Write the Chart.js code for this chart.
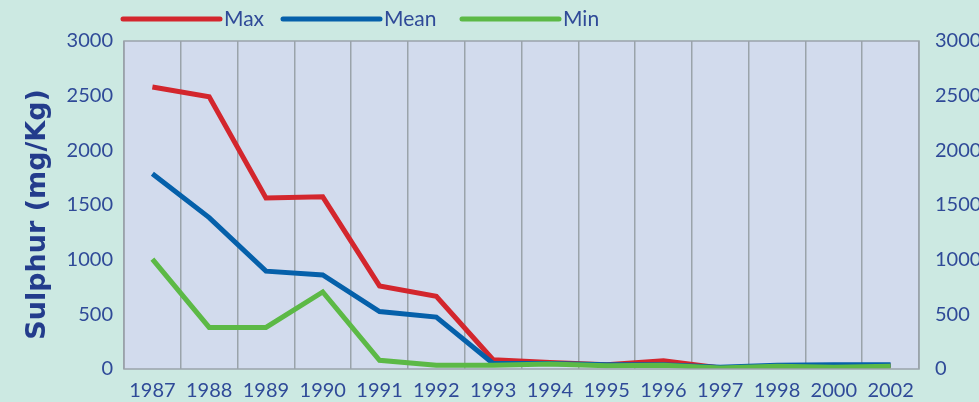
<!DOCTYPE html>
<html>
<head>
<meta charset="utf-8">
<script src="https://cdn.jsdelivr.net/npm/chart.js@4/dist/chart.umd.min.js"></script>
<style>
  html, body { margin: 0; padding: 0; background: #cce9e2; }
  #wrap { width: 979px; height: 402px; }
</style>
</head>
<body>
<div id="wrap"><canvas id="myChart"></canvas></div>
<script>
// data
const years = ['1987', '1988', '1989', '1990', '1991', '1992', '1993', '1994', '1995', '1996', '1997', '1998', '2000', '2002'];
const maxVals = [2580, 2490, 1565, 1575, 760, 665, 85, 60, 40, 75, 10, 15, 20, 30];
const meanVals = [1785, 1385, 895, 860, 525, 475, 50, 50, 40, 40, 15, 35, 40, 40];
const minVals = [1005, 380, 380, 705, 80, 35, 35, 45, 30, 35, 10, 25, 15, 25];
const yTicks = [0, 500, 1000, 1500, 2000, 2500, 3000];

const textColor = '#2f4a98';
const fontName = 'Lato';

// fills page bg + plot area
const bgPlugin = {
  id: 'bgPlugin',
  beforeDraw(chart) {
    const {ctx, chartArea: a} = chart;
    ctx.save();
    ctx.fillStyle = '#cce9e2';
    ctx.fillRect(0, 0, chart.width, chart.height);
    ctx.fillStyle = '#d2dbed';
    ctx.fillRect(a.left, a.top, a.right - a.left, a.bottom - a.top);
    ctx.restore();
  },
  afterDatasetsDraw(chart) {
    const {ctx, chartArea: a} = chart;
    ctx.save();
    ctx.strokeStyle = '#9aa3aa';
    ctx.lineWidth = 1.5;
    ctx.strokeRect(a.left, a.top, a.right - a.left, a.bottom - a.top);
    ctx.restore();
  }
};

// legend with long round-capped lines
const legendX = [123, 283, 462];
const lineLegend = {
  id: 'lineLegend',
  afterDraw(chart) {
    const ctx = chart.ctx;
    const y = 19;
    ctx.save();
    ctx.font = '21px ' + fontName;
    ctx.textBaseline = 'middle';
    chart.data.datasets.forEach((ds, i) => {
      const x = legendX[i];
      ctx.strokeStyle = ds.borderColor;
      ctx.lineWidth = 5;
      ctx.lineCap = 'round';
      ctx.beginPath();
      ctx.moveTo(x, y);
      ctx.lineTo(x + 97, y);
      ctx.stroke();
      ctx.fillStyle = textColor;
      ctx.fillText(ds.label, x + 101, y);
    });
    ctx.restore();
  }
};

const plain = v => String(v);

const ctx = document.getElementById('myChart');
new Chart(ctx, {
  type: 'line',
  data: {
    labels: years,
    datasets: [
      { label: 'Max', data: maxVals, borderColor: '#d3262d', backgroundColor: '#d3262d', order: 3 },
      { label: 'Mean', data: meanVals, borderColor: '#0560aa', backgroundColor: '#0560aa', order: 2 },
      { label: 'Min', data: minVals, borderColor: '#5cb946', backgroundColor: '#5cb946', order: 1 }
    ]
  },
  options: {
    responsive: true,
    maintainAspectRatio: false,
    animation: false,
    layout: { padding: { top: 41, left: 0, right: 0, bottom: 0 } },
    elements: {
      line: { borderWidth: 5, tension: 0 },
      point: { radius: 0 }
    },
    plugins: {
      legend: { display: false },
      tooltip: { enabled: false }
    },
    scales: {
      x: {
        offset: true,
        grid: { offset: true, color: '#9aa3aa', lineWidth: 1.5, drawTicks: false },
        border: { display: false },
        ticks: { color: textColor, font: { family: fontName, size: 20 }, padding: 10, maxRotation: 0, autoSkip: false },
        afterFit(s) { s.height = 33; }
      },
      y: {
        position: 'left',
        min: 0, max: 3000,
        afterBuildTicks(s) { s.ticks = yTicks.map(v => ({ value: v })); },
        grid: { display: false, drawTicks: false },
        border: { display: false },
        ticks: { color: textColor, font: { family: fontName, size: 20 }, padding: 11, callback: plain },
        title: {
          display: true,
          text: 'Sulphur (mg/Kg)\u00a0\u00a0',
          color: '#233c8c',
          font: { family: 'DejaVu Sans', size: 27, weight: 'bold' },
          padding: { top: 22, bottom: 0 }
        },
        afterFit(s) { s.width = 124; }
      },
      y2: {
        position: 'right',
        display: true,
        min: 0, max: 3000,
        afterBuildTicks(s) { s.ticks = yTicks.map(v => ({ value: v })); },
        grid: { display: false, drawTicks: false },
        border: { display: false },
        ticks: { color: textColor, font: { family: fontName, size: 20 }, padding: 16, callback: plain },
        afterFit(s) { s.width = 60; }
      }
    }
  },
  plugins: [bgPlugin, lineLegend]
});
</script>
</body>
</html>
